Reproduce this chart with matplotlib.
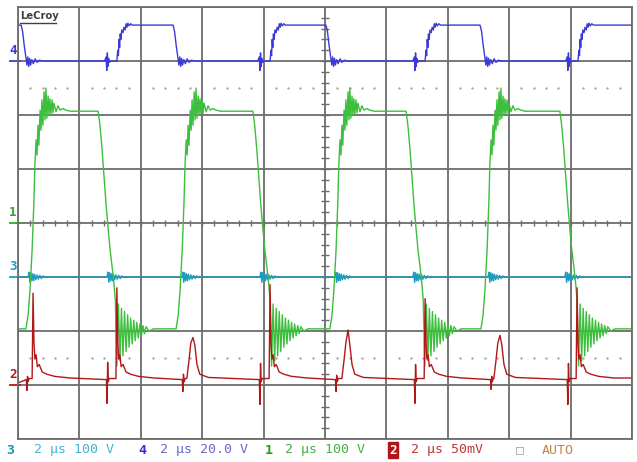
import matplotlib.pyplot as plt
from matplotlib.lines import Line2D
import numpy as np

# scope screen: 2 us/div, 10 x 8 divisions
t_end = 20.0

# ch1 (green) 100 V/div, ground at centre line
ch1_scale, ch1_pos = 100.0, 0.0
ch1_low = -196
ch1_rise_t = [0.26, 5.15, 10.16, 15.08]
ch1_fall_t = [2.61, 7.65, 12.64, 17.65]
ch1_rise_dt = [0, 0.07, 0.13, 0.2, 0.26, 0.29, 0.33, 0.36, 0.39, 0.42, 0.46, 0.49, 0.52, 0.55, 0.59, 0.62,
               0.65, 0.68, 0.72, 0.75, 0.78, 0.81, 0.85, 0.88, 0.91, 0.98, 1.04, 1.11, 1.2, 1.3, 1.45]
ch1_rise_v = [-196, -170, -124, -50, 43, 107, 154, 126, 181, 144, 209, 172, 228, 181, 243, 191,
              250, 194, 235, 200, 230, 202, 228, 204, 222, 206, 217, 209, 212, 209, 207]
ch1_fall_dt = [0, 0.06, 0.13, 0.2, 0.26, 0.33, 0.39, 0.46, 0.52, 0.56,
               0.61, 0.66, 0.71, 0.76, 0.81, 0.86, 0.91, 0.96, 1.01, 1.06, 1.11, 1.16, 1.21, 1.26, 1.31, 1.36,
               1.41, 1.46, 1.51, 1.56, 1.66, 1.8]
ch1_fall_v = [207, 181, 135, 80, 33, -13, -50, -83, -115, -143,
              -265, -150, -255, -158, -246, -164, -238, -170, -230, -176, -224, -180, -218, -184, -213, -187,
              -209, -190, -205, -192, -200, -196]

# ch4 (blue) 20 V/div, ground 3 div above centre
ch4_scale, ch4_pos = 20.0, 3.0
ch4_start = 13.3
ch4_fall_t = [0.10, 5.05, 10.03, 15.05]
ch4_rise_t = [3.22, 8.21, 13.26, 18.24]
ch4_fall_dt = [0, 0.05, 0.1, 0.15, 0.19, 0.22, 0.25, 0.28, 0.31, 0.35, 0.4, 0.46, 0.52, 0.6, 0.7]
ch4_fall_v = [13.3, 11, 6, 2, -1.5, 1.5, -2, 1, -1.5, 0.5, -1, 0.8, -0.5, 0.3, 0]
ch4_rise_dt = [-0.4, -0.35, -0.33, -0.31, -0.29, -0.27, -0.24, -0.2, 0, 0.03, 0.05, 0.07, 0.09,
               0.11, 0.13, 0.16, 0.2, 0.23, 0.27, 0.3, 0.33, 0.36, 0.4, 0.45, 0.5]
ch4_rise_v = [0, 1.5, -3.5, 3, -2, 1, -0.5, 0, 0, 4, 2, 8, 5,
              10, 8, 11.5, 10.5, 12.5, 11.5, 13.8, 12.5, 14, 13, 13.8, 13.3]

# ch3 (cyan) 100 V/div, ground 1 div below centre
ch3_scale, ch3_pos = 100.0, -1.0
ch3_burst_t = [0.33, 2.9, 5.34, 7.88, 10.32, 12.86, 15.31, 17.81]
ch3_burst_dt = [0, 0.03, 0.06, 0.09, 0.12, 0.15, 0.18, 0.21, 0.25, 0.29, 0.33, 0.38, 0.43, 0.48, 0.55, 0.62]
ch3_burst_v = [0, 9, -10, 8, -7, 6, -7, 5, -5, 4, -4, 3, -3, 2, -1, 0]

# ch2 (red) 50 mV/div, ground 3 div below centre
ch2_scale, ch2_pos = 50.0, -3.0
ch2_start = 2
ch2_blip_t = [0.29, 2.90, 5.37, 7.88, 10.36, 12.93, 15.41, 17.91]
ch2_blip_low = [-5, -17, -6, -18, -6, -17, -4, -18]
ch2_blip_high = [8, 21, 10, 20, 9, 19, 8, 20]
ch2_spike_t = [0.49, 3.22, 8.21, 13.26, 18.21]
ch2_spike_pk = [85, 90, 93, 80, 90]
ch2_spike_dt = [-0.03, 0, 0.03, 0.06, 0.1, 0.14, 0.2, 0.3, 0.45, 0.7, 1.2]
ch2_spike_tail = [40, 24, 28, 17, 19, 12, 10, 8, 6.5]
ch2_bump_t = [5.70, 10.75, 15.70]
ch2_bump_pk = [44, 51, 46]
ch2_bump_dt = [-0.2, -0.13, -0.07, 0, 0.06, 0.13, 0.22, 0.5]


def build(v0, events):
    t, v = [0.0], [v0]
    for t0, dts, vals in sorted(events, key=lambda e: e[0] + e[1][0]):
        for d, val in zip(dts, vals):
            t.append(t0 + d)
            v.append(val)
    t.append(t_end)
    v.append(v[-1])
    return np.array(t), np.array(v)


ev1 = [(r, ch1_rise_dt, ch1_rise_v) for r in ch1_rise_t] + [(f, ch1_fall_dt, ch1_fall_v) for f in ch1_fall_t]
t1, v1 = build(ch1_low, ev1)
ev4 = [(f, ch4_fall_dt, ch4_fall_v) for f in ch4_fall_t] + [(r, ch4_rise_dt, ch4_rise_v) for r in ch4_rise_t]
t4, v4 = build(ch4_start, ev4)
t3, v3 = build(0, [(b, ch3_burst_dt, ch3_burst_v) for b in ch3_burst_t])
ev2 = [(b, [-0.02, 0, 0.02, 0.04, 0.07], [5, lo, hi, 3, 6])
       for b, lo, hi in zip(ch2_blip_t, ch2_blip_low, ch2_blip_high)]
ev2 += [(s, ch2_spike_dt, [6, pk] + ch2_spike_tail) for s, pk in zip(ch2_spike_t, ch2_spike_pk)]
ev2 += [(b, ch2_bump_dt, [6, 23, 39, pk, 37, 19, 10, 7]) for b, pk in zip(ch2_bump_t, ch2_bump_pk)]
t2, v2 = build(ch2_start, ev2)

fig = plt.figure(figsize=(6.37, 4.62), dpi=100)
ax = fig.add_axes([18 / 637, 23 / 462, 614 / 637, 432 / 462])
ax.set_xlim(0, t_end)
ax.set_ylim(-4, 4)
ax.set_xticks(np.arange(0, 21, 2))
ax.set_yticks(np.arange(-4, 5, 1))
ax.grid(color="#6c6c6c", lw=1.3)
ax.set_axisbelow(True)
ax.tick_params(length=0, labelbottom=False, labelleft=False)
for s in ax.spines.values():
    s.set_color("#6c6c6c")
    s.set_linewidth(1.3)

# centre-line ticks and dotted level rows
ax.vlines(np.arange(0.4, 20, 0.4), -0.06, 0.06, color="#6c6c6c", lw=1)
ax.hlines(np.arange(-3.8, 4, 0.2), 10 - 0.13, 10 + 0.13, color="#6c6c6c", lw=1)
xd = [x for x in np.arange(0.4, 20, 0.4) if abs(x / 2 - round(x / 2)) > 0.01]
for yl in (2.5, -2.5):
    ax.scatter(xd, [yl] * len(xd), s=3, color="#a8a8a8", zorder=1, linewidths=0)

ax.plot(t3, v3 / ch3_scale + ch3_pos, color="#1e9cc0", lw=1.0)
ax.plot(t1, v1 / ch1_scale + ch1_pos, color="#3cbf3c", lw=1.0)
ax.plot(t2, v2 / ch2_scale + ch2_pos, color="#b01818", lw=1.0)
ax.plot(t4, v4 / ch4_scale + ch4_pos, color="#3a3ad8", lw=1.0)

# channel markers at the left edge
marks = [("4", ch4_pos, "#3a3ad8"), ("1", ch1_pos, "#2ea82e"), ("3", ch3_pos, "#1e9cc0"), ("2", ch2_pos, "#b01818")]
for lab, pos, col in marks:
    ax.plot([-0.27, 0.05], [pos, pos], color=col, lw=1.3, clip_on=False)
    ax.text(-0.17, pos + 0.2, lab, color=col, fontsize=9, fontweight="bold", ha="center", va="center",
            family="DejaVu Sans Mono", clip_on=False)

fig.text(20 / 637, 1 - 16 / 462, "LeCroy", fontsize=7.2, fontweight="bold", color="#404040", va="center")
fig.add_artist(Line2D([20 / 637, 56 / 637], [1 - 23 / 462, 1 - 23 / 462], color="#404040", lw=1))

# bottom status line
mono = "DejaVu Sans Mono"
yb = 1 - 450 / 462
status = [(6, "3", "#1a96b4", "bold"), (34, "2 µs 100 V", "#45b4cc", "normal"),
          (138, "4", "#3434c8", "bold"), (160, "2 µs 20.0 V", "#6868d0", "normal"),
          (265, "1", "#229a22", "bold"), (285, "2 µs 100 V", "#44b044", "normal"),
          (411, "2 µs 50mV", "#c03838", "normal"), (542, "AUTO", "#c08848", "normal")]
for xp, s, col, w in status:
    fig.text(xp / 637, yb, s, color=col, fontsize=9.5, fontweight=w, family=mono, va="center")
fig.text(389 / 637, yb, "2", color="white", fontsize=9, fontweight="bold", family=mono, va="center",
         bbox=dict(boxstyle="square,pad=0.1", fc="#b01818", ec="#b01818"))
fig.text(516 / 637, yb, "□", color="#a0a0a0", fontsize=9.5, family=mono, va="center")

fig.savefig("out.png", dpi=100)
